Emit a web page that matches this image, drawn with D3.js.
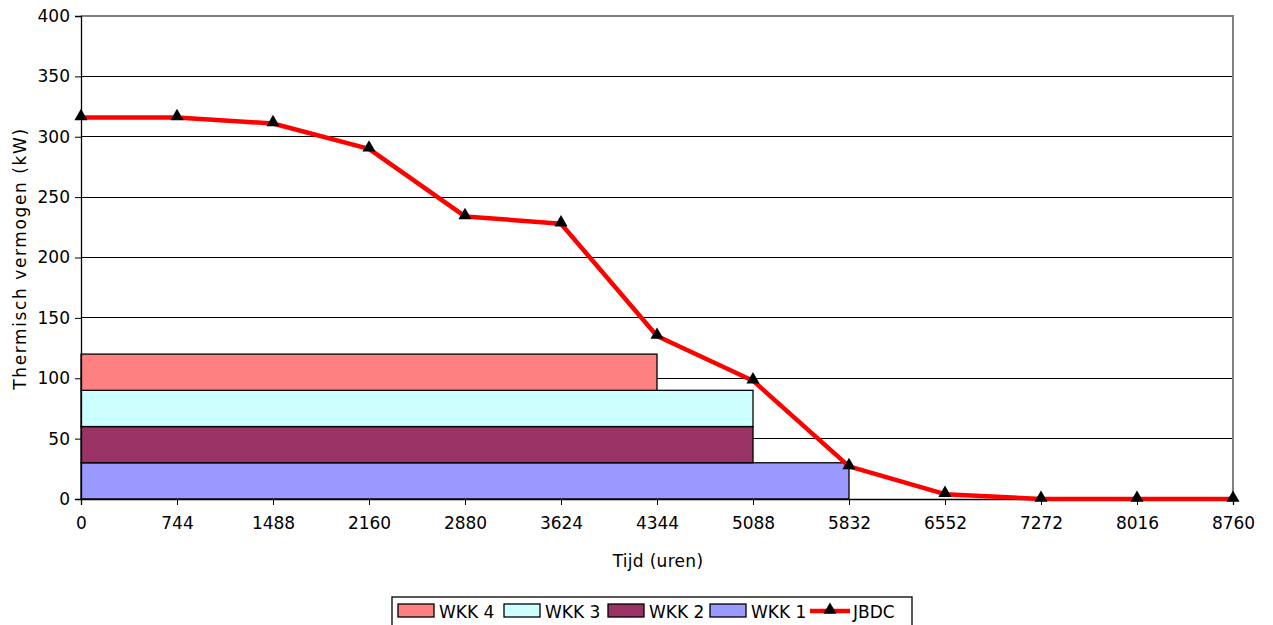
<!DOCTYPE html>
<html>
<head>
<meta charset="utf-8">
<script src="https://cdn.jsdelivr.net/npm/d3@7"></script>
<style>
  html, body { margin: 0; padding: 0; background: #fff; }
  svg { display: block; font-family: "DejaVu Sans", Verdana, sans-serif; }
</style>
</head>
<body>
<svg id="chart" width="1273" height="625"></svg>
<script>
// Hours of the year (category axis)
const categories = ["0", "744", "1488", "2160", "2880", "3624", "4344", "5088", "5832", "6552", "7272", "8016", "8760"];
// Annual load duration curve (JBDC), kW
const jbdc = [316, 316, 311, 290, 234, 228, 135, 98, 27, 4, 0, 0, 0];
// CHP units, stacked from the bottom: thermal capacity (kW) and running hours
const wkkNames = ["WKK 1", "WKK 2", "WKK 3", "WKK 4"];
const wkkCapacity = [30, 30, 30, 30];
const wkkHours = ["5832", "5088", "5088", "4344"];
const wkkColors = ["#9999FF", "#993366", "#CCFFFF", "#FF8080"];
const yTicks = [0, 50, 100, 150, 200, 250, 300, 350, 400];

const svg = d3.select("#chart");
const plotLeft = 81, plotRight = 1233, plotTop = 16, plotBottom = 499;

const x = d3.scalePoint().domain(categories).range([plotLeft, plotRight]);
const y = d3.scaleLinear().domain([0, 400]).range([plotBottom, plotTop]);

// Gridlines
svg.append("g")
  .selectAll("line")
  .data(yTicks.filter(d => d > 0 && d < 400))
  .join("line")
  .attr("x1", plotLeft).attr("x2", plotRight)
  .attr("y1", d => y(d)).attr("y2", d => y(d))
  .attr("stroke", "#000").attr("stroke-width", 1)
  .attr("shape-rendering", "crispEdges");

// Plot area border (top and right)
svg.append("path")
  .attr("d", `M${plotLeft},${plotTop}H${plotRight}V${plotBottom}`)
  .attr("fill", "none").attr("stroke", "#808080").attr("stroke-width", 1.5)
  .attr("shape-rendering", "crispEdges");

// Stacked CHP bars
let base = 0;
const bars = wkkNames.map((n, i) => {
  const b = { name: n, y0: base, y1: base + wkkCapacity[i], end: wkkHours[i], color: wkkColors[i] };
  base += wkkCapacity[i];
  return b;
});
svg.append("g")
  .selectAll("rect")
  .data(bars)
  .join("rect")
  .attr("x", x(categories[0]))
  .attr("width", d => x(d.end) - x(categories[0]))
  .attr("y", d => y(d.y1))
  .attr("height", d => y(d.y0) - y(d.y1))
  .attr("fill", d => d.color)
  .attr("stroke", "#000").attr("stroke-width", 1.3);

// Axes
const yAxis = svg.append("g")
  .attr("transform", `translate(${plotLeft},0)`)
  .call(d3.axisLeft(y).tickValues(yTicks).tickSize(6).tickPadding(5).tickFormat(d3.format("d")));
const xAxis = svg.append("g")
  .attr("transform", `translate(0,${plotBottom})`)
  .call(d3.axisBottom(x).tickSize(6).tickPadding(12));
[yAxis, xAxis].forEach(g => {
  g.select(".domain").attr("stroke", "#000").attr("stroke-width", 1.3);
  g.selectAll(".tick line").attr("stroke", "#000");
  g.selectAll("text").attr("fill", "#000")
    .style("font-size", "17px").style("font-family", "'DejaVu Sans', Verdana, sans-serif");
});

// Duration curve
const line = d3.line().x((d, i) => x(categories[i])).y(d => y(d));
svg.append("path")
  .datum(jbdc)
  .attr("d", line)
  .attr("fill", "none").attr("stroke", "#FF0000").attr("stroke-width", 4.5)
  .attr("stroke-linejoin", "round");

const tri = d3.symbol().type(d3.symbolTriangle).size(75);
svg.append("g")
  .selectAll("path")
  .data(jbdc)
  .join("path")
  .attr("d", tri)
  .attr("transform", (d, i) => `translate(${x(categories[i])},${y(d) - 1})`)
  .attr("fill", "#000");

// Axis titles
svg.append("text")
  .attr("x", (plotLeft + plotRight) / 2 + 1).attr("y", 567)
  .attr("text-anchor", "middle")
  .style("font-size", "17px")
  .style("letter-spacing", "0.3px")
  .text("Tijd (uren)");
svg.append("text")
  .attr("transform", `translate(26,${(plotTop + plotBottom) / 2 + 1}) rotate(-90)`)
  .attr("text-anchor", "middle")
  .style("font-size", "17px")
  .style("letter-spacing", "1.6px")
  .text("Thermisch vermogen (kW)");

// Legend
const legend = svg.append("g");
legend.append("rect")
  .attr("x", 392).attr("y", 597).attr("width", 520).attr("height", 40)
  .attr("fill", "#fff").attr("stroke", "#000").attr("stroke-width", 1.3);
const legendItems = [
  { name: wkkNames[3], color: wkkColors[3], x: 398 },
  { name: wkkNames[2], color: wkkColors[2], x: 504 },
  { name: wkkNames[1], color: wkkColors[1], x: 608 },
  { name: wkkNames[0], color: wkkColors[0], x: 710 }
];
legendItems.forEach(d => {
  legend.append("rect")
    .attr("x", d.x).attr("y", 604).attr("width", 36).attr("height", 13)
    .attr("fill", d.color).attr("stroke", "#000").attr("stroke-width", 1.3);
  legend.append("text")
    .attr("x", d.x + 41).attr("y", 618)
    .style("font-size", "17px")
    .text(d.name);
});
legend.append("line")
  .attr("x1", 810).attr("x2", 850).attr("y1", 611).attr("y2", 611)
  .attr("stroke", "#FF0000").attr("stroke-width", 4.5);
legend.append("path")
  .attr("d", tri)
  .attr("transform", "translate(830,610)")
  .attr("fill", "#000");
legend.append("text")
  .attr("x", 853).attr("y", 618)
  .style("font-size", "17px")
  .text("JBDC");
</script>
</body>
</html>
